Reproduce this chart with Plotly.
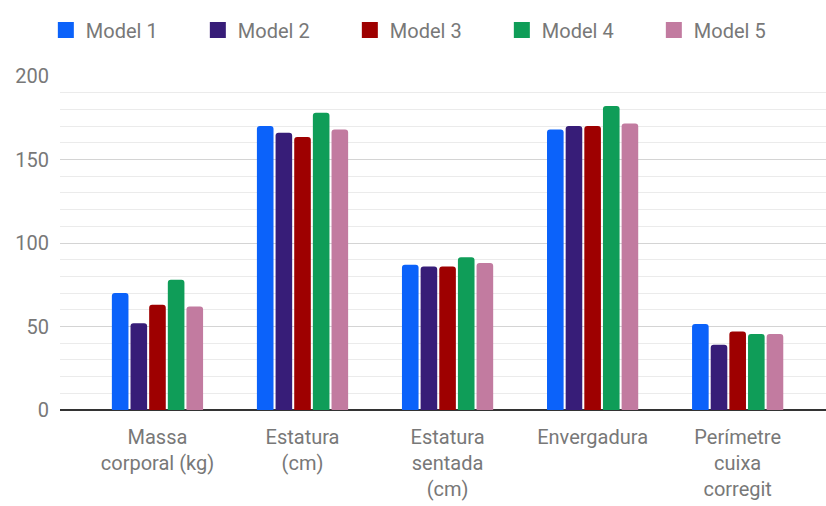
import plotly.graph_objects as go

# Categories (x-axis) and one value list per model
categories = [
    "Massa<br>corporal (kg)",
    "Estatura<br>(cm)",
    "Estatura<br>sentada<br>(cm)",
    "Envergadura",
    "Perímetre<br>cuixa<br>corregit",
]
model_names = ["Model 1", "Model 2", "Model 3", "Model 4", "Model 5"]
model_1 = [70, 170, 87, 168, 51.5]
model_2 = [52, 166, 86, 170, 39]
model_3 = [63, 163.5, 86, 170, 47]
model_4 = [78, 178, 91.5, 182, 45.5]
model_5 = [62, 168, 88, 171.5, 45.5]
series = [model_1, model_2, model_3, model_4, model_5]
colors = ["#0b62fa", "#371d78", "#9e0000", "#0f9d58", "#c27ba0"]

y_ticks = [0, 50, 100, 150, 200]

FONT = "Roboto, Arial, sans-serif"
TEXT_GREY = "#787878"

fig = go.Figure()

for name, vals, col in zip(model_names, series, colors):
    fig.add_trace(go.Bar(
        x=categories, y=vals, name=name, marker_color=col,
        marker_line_width=0, legendgroup=name, showlegend=False,
    ))
    # larger square swatch for the legend entry
    fig.add_trace(go.Scatter(
        x=[None], y=[None], mode="markers", name=name, legendgroup=name,
        marker=dict(symbol="square", size=20, color=col),
        showlegend=True,
    ))

fig.update_layout(
    width=826, height=506,
    margin=dict(l=60, r=0, t=76, b=96),
    paper_bgcolor="white", plot_bgcolor="white",
    font=dict(family=FONT, size=20, color=TEXT_GREY),
    barmode="group", bargap=0.357, bargroupgap=0.11,
    barcornerradius=3,
    showlegend=True,
    legend=dict(
        orientation="h", xref="container", yref="container",
        x=0.0555, xanchor="left", y=1 - 30 / 506, yanchor="middle",
        font=dict(family=FONT, size=20, color=TEXT_GREY),
        entrywidth=107, itemsizing="trace",
        bgcolor="rgba(0,0,0,0)",
    ),
    xaxis=dict(
        type="category", range=[-0.672, 4.609],
        showgrid=False, showline=False, zeroline=False,
        ticks="", ticklabelstandoff=13,
        tickfont=dict(family=FONT, size=20, color=TEXT_GREY),
        tickangle=0,
    ),
    yaxis=dict(
        range=[0, 200], tickvals=y_ticks,
        showgrid=True, gridcolor="#d4d4d4", gridwidth=1,
        minor=dict(dtick=10, showgrid=True, gridcolor="#ebebeb", gridwidth=1),
        zeroline=True, zerolinecolor="#333333", zerolinewidth=2,
        showline=False, ticks="", ticklabelstandoff=10,
        tickfont=dict(family=FONT, size=20, color=TEXT_GREY),
    ),
)

fig.write_html("out.html")
